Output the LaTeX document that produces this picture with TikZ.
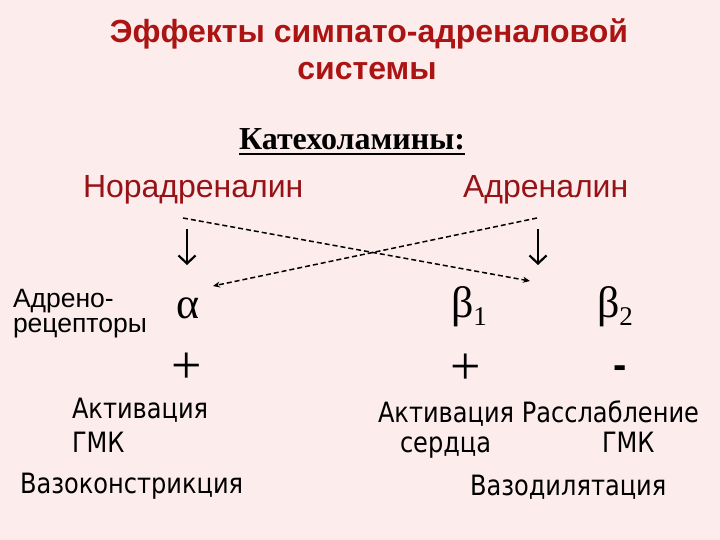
\documentclass[tikz,border=0pt]{standalone}
\usepackage{fontspec}
\setmainfont{Liberation Serif}
\newfontfamily\arialf{Liberation Sans}
\newfontfamily\tahomaf[FakeStretch=0.86]{DejaVu Sans}
\usetikzlibrary{arrows.meta}
\definecolor{bg}{RGB}{252,236,236}
\definecolor{titlered}{RGB}{172,20,20}
\definecolor{hormred}{RGB}{150,18,22}
\newcommand\lowsub[1]{{\fontsize{27}{27}\selectfont\raisebox{-8pt}{#1}}}
\begin{document}
\begin{tikzpicture}[x=1pt,y=-1pt,
  every node/.style={inner sep=0pt,outer sep=0pt},
  titletext/.style={font=\arialf\bfseries\fontsize{32}{38}\selectfont, text=titlered},
  cattext/.style={font=\bfseries\fontsize{32}{36}\selectfont},
  hormtext/.style={font=\arialf\fontsize{32}{38}\selectfont, text=hormred},
  rectext/.style={font=\arialf\fontsize{26.5}{30}\selectfont},
  greektext/.style={font=\fontsize{44}{48}\selectfont},
  plustext/.style={font=\fontsize{54}{56}\selectfont},
  efftext/.style={font=\tahomaf\fontsize{28}{32}\selectfont},
  solidarrow/.style={line width=2pt, -{Straight Barb[length=8pt,width=17pt,line width=2.2pt]}},
  dasharrow/.style={line width=1.5pt, dash pattern=on 5pt off 3pt, -{Stealth[length=7pt,width=6pt]}}]
\fill[bg] (0,0) rectangle (720,540);
\useasboundingbox (0,0) rectangle (720,540);

% title
\node[titletext, anchor=base] (t1) at (369,43) {Эффекты симпато-адреналовой};
\node[titletext, anchor=base] (t2) at (367,80) {системы};

% catecholamines
\node[cattext, anchor=base] (cat) at (352,150) {Катехоламины:};
\draw[line width=2pt] ([yshift=-4pt]cat.base west) -- ([yshift=-4pt]cat.base east);

\node[hormtext, anchor=base west] (nor) at (83,197) {Норадреналин};
\node[hormtext, anchor=base west] (adr) at (463,197) {Адреналин};

% receptors label
\node[rectext, anchor=base west] (rec1) at (13,307) {Адрено-};
\node[rectext, anchor=base west] (rec2) at (13,332) {рецепторы};

% greek
\node[greektext, anchor=base] (alpha) at (188,318) {α};
\node[greektext, anchor=base west] (beta1) at (451,317) {β\lowsub{1}};
\node[greektext, anchor=base west] (beta2) at (597,317) {β\lowsub{2}};

% signs
\node[plustext] (p1) at (187,368) {+};
\node[plustext] (p2) at (466,369) {+};
\node[font=\arialf\bfseries\fontsize{40}{40}\selectfont] (m2) at (620,372) {-};

% arrows
\coordinate (na1) at (187,229);
\coordinate (na2) at (187,265);
\coordinate (aa1) at (538,229);
\coordinate (aa2) at (538,265);
\draw[solidarrow] (na1) -- (na2);
\draw[solidarrow] (aa1) -- (aa2);

\coordinate (d1s) at (183,218);
\coordinate (d1e) at (530,281);
\coordinate (d2s) at (537,218);
\coordinate (d2e) at (213,286);
\draw[dasharrow] (d1s) -- (d1e);
\draw[dasharrow] (d2s) -- (d2e);

% effects
\node[efftext, anchor=base west] (e1) at (72,418) {Активация};
\node[efftext, anchor=base west] (e2) at (72,452) {ГМК};
\node[efftext, anchor=base west] (e3) at (20,493) {Вазоконстрикция};
\node[efftext, anchor=base west] (e4) at (378,422) {Активация Расслабление};
\node[efftext, anchor=base west] (e5) at (400,452) {сердца};
\node[efftext, anchor=base west] (e6) at (602,452) {ГМК};
\node[efftext, anchor=base west] (e7) at (470,495) {Вазодилятация};
\end{tikzpicture}
\end{document}
